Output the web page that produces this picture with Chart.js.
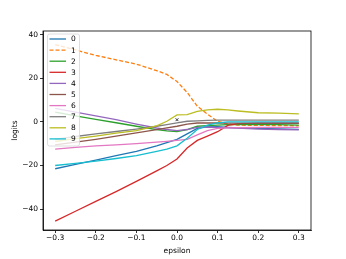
<!DOCTYPE html>
<html><head><meta charset="utf-8">
<script src="https://cdn.jsdelivr.net/npm/chart.js@4/dist/chart.umd.min.js"></script>
<style>html,body{margin:0;padding:0;background:#fff}#wrap{width:346px;height:259px}</style>
</head><body><div id="wrap"><canvas id="c" width="346" height="259"></canvas></div>
<script>
const epsilon = [-0.3,-0.25,-0.2,-0.15,-0.1,-0.05,-0.025,0,0.025,0.05,0.075,0.1,0.125,0.15,0.2,0.25,0.3];
const labels = ['0','1','2','3','4','5','6','7','8','9'];
const s0 = [-21.5,-19.5,-17.5,-15.5,-13.5,-11,-9.5,-8,-5.5,-3,-2.3,-2.2,-2.5,-2.7,-3,-3.2,-3.4];
const s1 = [35.5,33,30.5,28.5,26.5,23.5,21.8,18.5,13.5,7.2,3.5,0.3,-1,-1.5,-1.6,-1.7,-1.8];
const s2 = [4.5,2.8,1.2,-0.4,-2,-3.5,-4.1,-4.5,-3.5,-2,-1.7,-1.5,-1.3,-1.2,-1.2,-1.3,-1.5];
const s3 = [-45.5,-41,-36.5,-32,-27.3,-22.5,-20,-17,-12,-8.5,-6.5,-4.5,-1.6,-0.8,-0.5,-0.5,-0.5];
const s4 = [6.2,4.5,2.8,1,-1,-2.8,-3.5,-4,-3.5,-2.5,-2.4,-2.5,-2.7,-2.9,-3.3,-3.5,-3.7];
const s5 = [-10.5,-9.3,-8,-6.5,-5,-3.5,-2.7,-2,-1,-0.5,-0.5,-0.5,-0.6,-0.6,-0.7,-0.7,-0.7];
const s6 = [-12.5,-11.7,-11,-10.5,-10,-9.3,-8.9,-8.5,-8,-6,-4,-3,-2.7,-2.6,-2.5,-2.5,-2.5];
const s7 = [-8,-6.7,-5.5,-4.4,-3.3,-2,-1.3,-0.5,0.3,0.5,0.7,0.8,0.8,0.8,0.8,0.8,0.8];
const s8 = [-9,-7.7,-6.5,-5.2,-4,-1.8,0.3,3.2,3.3,4.8,5.5,5.8,5.5,5,4.2,4,3.7];
const s9 = [-20,-19,-18,-16.8,-15.5,-13.5,-12.5,-11,-7.5,-3.5,-1.5,-0.5,0,0,0,0,0];
const series = [s0,s1,s2,s3,s4,s5,s6,s7,s8,s9];
const markerX = [0];
const markerY = [1];
const xTicks = [-0.3,-0.2,-0.1,0,0.1,0.2,0.3];
const yTicks = [-40,-20,0,20,40];
const colors = ['#1f77b4','#ff7f0e','#2ca02c','#d62728','#9467bd','#8c564b','#e377c2','#7f7f7f','#bcbd22','#17becf'];

const FONT = 'DejaVu Sans';
const LW = 1.3;
const datasets = series.map((vals,i)=>({
  label: labels[i],
  data: vals.map((v,j)=>({x: epsilon[j], y: v})),
  borderColor: colors[i], backgroundColor: colors[i],
  borderWidth: LW, pointRadius: 0, tension: 0, fill: false,
  borderDash: i===1 ? [4,2] : [],
  order: 9 - i
}));
datasets.push({
  label: 'x', type: 'scatter',
  data: markerX.map((v,j)=>({x: v, y: markerY[j]})),
  pointStyle: 'crossRot', pointRadius: 2, borderColor: '#333', borderWidth: 1,
  showLine: false, order: -1
});

const frame = {
  id: 'frame',
  afterDatasetsDraw(chart){
    const {ctx, chartArea: a} = chart;
    ctx.save();
    ctx.strokeStyle = '#000'; ctx.lineWidth = 0.8;
    ctx.strokeRect(a.left, a.top, a.right - a.left, a.bottom - a.top);
    // legend inside axes, upper left
    const n = labels.length;
    const bx = a.left + 4.5, by = a.top + 3, bw = 32, rowH = 11.1, bh = 112;
    ctx.globalAlpha = 0.8;
    ctx.fillStyle = '#fff';
    ctx.beginPath();
    if (ctx.roundRect) ctx.roundRect(bx, by, bw, bh, 2); else ctx.rect(bx,by,bw,bh);
    ctx.fill();
    ctx.globalAlpha = 1;
    ctx.strokeStyle = '#d6d6d6'; ctx.lineWidth = 0.8;
    ctx.stroke();
    ctx.font = '7.5px "' + FONT + '"';
    ctx.textBaseline = 'middle'; ctx.textAlign = 'left';
    for (let i=0;i<n;i++){
      const ds = chart.data.datasets[i];
      const y = by + 5 + i*rowH;
      ctx.strokeStyle = ds.borderColor; ctx.lineWidth = LW;
      ctx.setLineDash(ds.borderDash || []);
      ctx.beginPath(); ctx.moveTo(bx+2, y); ctx.lineTo(bx+18.5, y); ctx.stroke();
      ctx.setLineDash([]);
      ctx.fillStyle = '#000';
      ctx.fillText(ds.label, bx+23.5, y+0.5);
    }
    ctx.restore();
  }
};

const fmt = v => (v < 0 ? '\u2212' : '') + Math.abs(v);
new Chart(document.getElementById('c'), {
  type: 'line',
  data: { datasets },
  options: {
    responsive: false, animation: false, devicePixelRatio: 1,
    layout: { padding: { left: 0, right: 35, top: 31, bottom: 0 } },
    plugins: { legend: { display: false }, tooltip: { enabled: false } },
    scales: {
      x: {
        type: 'linear', min: -0.33, max: 0.33,
        afterBuildTicks: s => { s.ticks = xTicks.map(v => ({value: v})); },
        afterFit: s => { s.height = 29; },
        ticks: { font: { family: FONT, size: 7.5 }, color: '#000', padding: 1, maxRotation: 0,
          callback: v => (v < 0 ? '\u2212' : '') + Math.abs(v).toFixed(1) },
        grid: { display: true, drawOnChartArea: false, drawTicks: true, tickLength: 3, color: '#000', lineWidth: 0.8 },
        border: { display: true, color: '#000', width: 0.8 },
        title: { display: true, text: 'epsilon', font: { family: FONT, size: 7.5 }, color: '#000', padding: { top: 0, bottom: 3 } }
      },
      y: {
        type: 'linear', min: -49.6, max: 41.7,
        afterBuildTicks: s => { s.ticks = yTicks.map(v => ({value: v})); },
        afterFit: s => { s.width = 43; },
        ticks: { font: { family: FONT, size: 7.5 }, color: '#000', padding: 2, callback: fmt },
        grid: { display: true, drawOnChartArea: false, drawTicks: true, tickLength: 3, color: '#000', lineWidth: 0.8 },
        border: { display: true, color: '#000', width: 0.8 },
        title: { display: true, text: 'logits', font: { family: FONT, size: 7.5 }, color: '#000', padding: { top: 11, bottom: 0 } }
      }
    }
  },
  plugins: [frame]
});
</script></body></html>
